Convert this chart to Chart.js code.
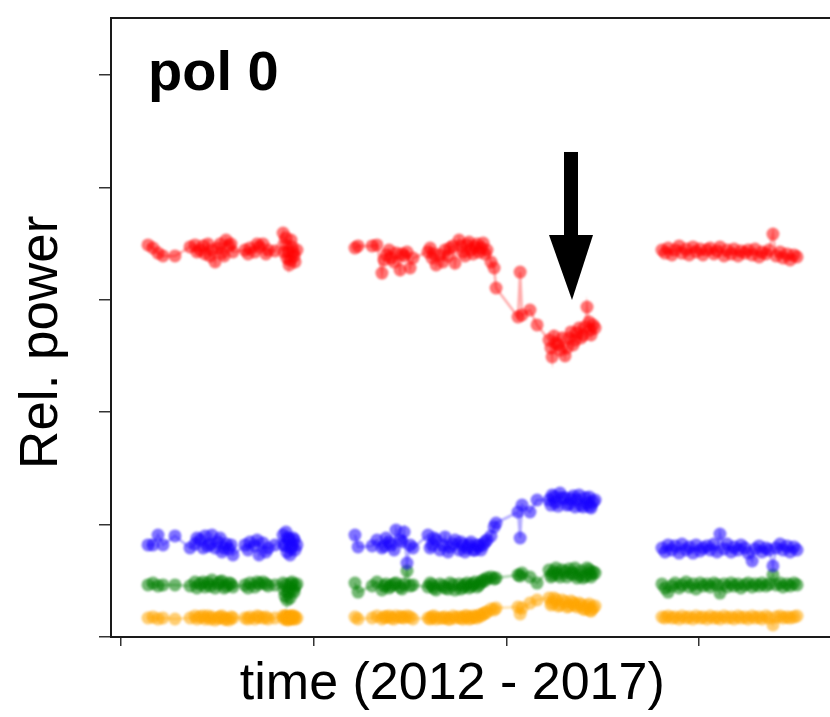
<!DOCTYPE html>
<html>
<head>
<meta charset="utf-8">
<script src="https://cdn.jsdelivr.net/npm/chart.js@4"></script>
<style>
html,body{margin:0;padding:0;background:#ffffff;}
canvas{display:block;}
</style>
</head>
<body>
<canvas id="c" width="830" height="717"></canvas>
<script>
// ---------- data (time in years, relative power) ----------
const timesA = [2013.140, 2013.166, 2013.192, 2013.218, 2013.280, 2013.358, 2013.384, 2013.394, 2013.410, 2013.426, 2013.436, 2013.451, 2013.462, 2013.472, 2013.488, 2013.503, 2013.514, 2013.524, 2013.535, 2013.545, 2013.560, 2013.571, 2013.581, 2013.643, 2013.659, 2013.669, 2013.695, 2013.706, 2013.716, 2013.737, 2013.752, 2013.763, 2013.799, 2013.841, 2013.846, 2013.851, 2013.856, 2013.861, 2013.867, 2013.872, 2013.877, 2013.882, 2013.887, 2013.893, 2013.898, 2013.903, 2013.913];
const timesB = [2014.214, 2014.230, 2014.303, 2014.328, 2014.354, 2014.365, 2014.375, 2014.391, 2014.401, 2014.417, 2014.427, 2014.448, 2014.458, 2014.469, 2014.484, 2014.500, 2014.515, 2014.593, 2014.604, 2014.614, 2014.624, 2014.635, 2014.655, 2014.671, 2014.681, 2014.697, 2014.707, 2014.723, 2014.733, 2014.754, 2014.764, 2014.775, 2014.785, 2014.796, 2014.806, 2014.816, 2014.827, 2014.837, 2014.847, 2014.858, 2014.868, 2014.879, 2014.889, 2014.899, 2014.920, 2014.936, 2014.946, 2015.060, 2015.071, 2015.081, 2015.122, 2015.159, 2015.221, 2015.231, 2015.237, 2015.247, 2015.257, 2015.268, 2015.278, 2015.289, 2015.304, 2015.314, 2015.325, 2015.335, 2015.346, 2015.356, 2015.366, 2015.377, 2015.387, 2015.398, 2015.408, 2015.418, 2015.429, 2015.434, 2015.439, 2015.449, 2015.460];
const timesC = [2015.807, 2015.823, 2015.839, 2015.859, 2015.875, 2015.896, 2015.911, 2015.932, 2015.948, 2015.968, 2015.984, 2016.005, 2016.020, 2016.041, 2016.057, 2016.077, 2016.093, 2016.108, 2016.129, 2016.145, 2016.166, 2016.181, 2016.202, 2016.217, 2016.238, 2016.254, 2016.275, 2016.290, 2016.311, 2016.326, 2016.347, 2016.363, 2016.383, 2016.399, 2016.420, 2016.435, 2016.456, 2016.472, 2016.492, 2016.508];

const redA = [3.488, 3.461, 3.416, 3.390, 3.390, 3.470, 3.488, 3.425, 3.443, 3.479, 3.408, 3.496, 3.390, 3.443, 3.336, 3.461, 3.496, 3.416, 3.390, 3.532, 3.479, 3.496, 3.425, 3.443, 3.408, 3.461, 3.425, 3.496, 3.470, 3.496, 3.408, 3.443, 3.434, 3.594, 3.425, 3.488, 3.550, 3.372, 3.425, 3.310, 3.354, 3.532, 3.470, 3.425, 3.390, 3.336, 3.443];
const redB = [3.461, 3.479, 3.479, 3.488, 3.238, 3.354, 3.399, 3.443, 3.372, 3.336, 3.416, 3.265, 3.408, 3.390, 3.425, 3.283, 3.372, 3.425, 3.461, 3.372, 3.408, 3.310, 3.399, 3.336, 3.443, 3.390, 3.461, 3.479, 3.327, 3.532, 3.479, 3.425, 3.390, 3.488, 3.514, 3.443, 3.408, 3.470, 3.496, 3.425, 3.461, 3.505, 3.408, 3.443, 3.336, 3.283, 3.105, 2.847, 3.247, 2.865, 2.909, 2.776, 2.642, 2.571, 2.491, 2.678, 2.616, 2.598, 2.553, 2.660, 2.500, 2.571, 2.660, 2.714, 2.598, 2.642, 2.705, 2.749, 2.660, 2.687, 2.758, 2.936, 2.802, 2.731, 2.687, 2.776, 2.749];
const redC = [3.443, 3.416, 3.461, 3.399, 3.443, 3.479, 3.416, 3.452, 3.399, 3.470, 3.425, 3.452, 3.399, 3.443, 3.461, 3.408, 3.434, 3.470, 3.390, 3.443, 3.408, 3.452, 3.390, 3.434, 3.416, 3.443, 3.399, 3.452, 3.381, 3.425, 3.408, 3.443, 3.585, 3.390, 3.425, 3.372, 3.408, 3.354, 3.399, 3.381];

const blueA = [0.819, 0.819, 0.907, 0.819, 0.899, 0.792, 0.827, 0.881, 0.863, 0.792, 0.899, 0.810, 0.827, 0.907, 0.792, 0.845, 0.881, 0.756, 0.792, 0.827, 0.783, 0.819, 0.730, 0.819, 0.774, 0.845, 0.810, 0.863, 0.730, 0.836, 0.756, 0.792, 0.819, 0.907, 0.819, 0.819, 0.934, 0.756, 0.881, 0.863, 0.730, 0.792, 0.819, 0.881, 0.863, 0.774, 0.819];
const blueB = [0.907, 0.801, 0.810, 0.863, 0.792, 0.810, 0.881, 0.845, 0.819, 0.774, 0.952, 0.863, 0.845, 0.934, 0.658, 0.819, 0.792, 0.907, 0.792, 0.819, 0.881, 0.863, 0.774, 0.819, 0.890, 0.756, 0.801, 0.827, 0.863, 0.774, 0.845, 0.819, 0.756, 0.792, 0.819, 0.845, 0.774, 0.774, 0.819, 0.810, 0.774, 0.819, 0.845, 0.863, 0.899, 0.979, 1.014, 1.112, 0.881, 1.174, 1.112, 1.219, 1.219, 1.174, 1.263, 1.246, 1.201, 1.165, 1.281, 1.237, 1.237, 1.174, 1.183, 1.228, 1.254, 1.157, 1.219, 1.263, 1.174, 1.157, 1.237, 1.192, 1.246, 1.165, 1.148, 1.201, 1.219];
const blueC = [0.792, 0.756, 0.819, 0.774, 0.810, 0.747, 0.827, 0.774, 0.801, 0.747, 0.819, 0.765, 0.792, 0.810, 0.774, 0.827, 0.756, 0.916, 0.783, 0.827, 0.756, 0.801, 0.774, 0.819, 0.792, 0.747, 0.676, 0.783, 0.810, 0.756, 0.792, 0.774, 0.632, 0.792, 0.827, 0.774, 0.810, 0.756, 0.801, 0.774];

const greenA = [0.463, 0.480, 0.454, 0.463, 0.463, 0.454, 0.489, 0.436, 0.472, 0.489, 0.445, 0.480, 0.454, 0.507, 0.436, 0.472, 0.489, 0.498, 0.436, 0.454, 0.480, 0.472, 0.445, 0.463, 0.436, 0.480, 0.445, 0.489, 0.472, 0.489, 0.472, 0.454, 0.463, 0.480, 0.418, 0.365, 0.463, 0.329, 0.400, 0.436, 0.347, 0.472, 0.489, 0.418, 0.400, 0.454, 0.472];
const greenB = [0.480, 0.400, 0.454, 0.489, 0.418, 0.454, 0.472, 0.436, 0.454, 0.472, 0.480, 0.445, 0.427, 0.472, 0.587, 0.454, 0.463, 0.445, 0.480, 0.463, 0.436, 0.418, 0.472, 0.454, 0.436, 0.427, 0.480, 0.463, 0.418, 0.472, 0.427, 0.445, 0.463, 0.480, 0.436, 0.454, 0.472, 0.489, 0.445, 0.463, 0.489, 0.507, 0.498, 0.525, 0.534, 0.516, 0.525, 0.552, 0.543, 0.569, 0.534, 0.480, 0.596, 0.534, 0.552, 0.578, 0.614, 0.560, 0.534, 0.596, 0.578, 0.534, 0.605, 0.569, 0.560, 0.614, 0.525, 0.552, 0.587, 0.525, 0.543, 0.614, 0.596, 0.560, 0.534, 0.578, 0.569];
const greenC = [0.472, 0.436, 0.400, 0.454, 0.480, 0.436, 0.463, 0.489, 0.445, 0.472, 0.427, 0.480, 0.454, 0.472, 0.445, 0.480, 0.463, 0.391, 0.472, 0.445, 0.480, 0.454, 0.472, 0.436, 0.463, 0.480, 0.445, 0.472, 0.454, 0.480, 0.454, 0.472, 0.552, 0.463, 0.480, 0.445, 0.472, 0.454, 0.480, 0.463];

const orangeA = [0.169, 0.178, 0.160, 0.169, 0.160, 0.169, 0.187, 0.160, 0.178, 0.187, 0.160, 0.187, 0.160, 0.178, 0.151, 0.169, 0.178, 0.187, 0.160, 0.160, 0.151, 0.178, 0.169, 0.169, 0.160, 0.178, 0.160, 0.187, 0.178, 0.169, 0.178, 0.160, 0.169, 0.187, 0.160, 0.178, 0.187, 0.160, 0.151, 0.169, 0.178, 0.187, 0.160, 0.178, 0.187, 0.160, 0.169];
const orangeB = [0.178, 0.160, 0.169, 0.187, 0.160, 0.178, 0.178, 0.187, 0.169, 0.160, 0.187, 0.178, 0.178, 0.169, 0.187, 0.178, 0.160, 0.169, 0.160, 0.178, 0.187, 0.160, 0.169, 0.169, 0.178, 0.160, 0.160, 0.187, 0.169, 0.178, 0.169, 0.160, 0.187, 0.187, 0.160, 0.169, 0.187, 0.178, 0.169, 0.196, 0.187, 0.205, 0.214, 0.222, 0.249, 0.240, 0.258, 0.267, 0.205, 0.258, 0.302, 0.329, 0.347, 0.285, 0.302, 0.347, 0.329, 0.276, 0.285, 0.329, 0.311, 0.267, 0.276, 0.320, 0.302, 0.285, 0.267, 0.302, 0.285, 0.249, 0.249, 0.276, 0.294, 0.240, 0.231, 0.258, 0.276];
const orangeC = [0.178, 0.169, 0.187, 0.169, 0.178, 0.160, 0.187, 0.169, 0.178, 0.160, 0.187, 0.169, 0.178, 0.160, 0.187, 0.169, 0.178, 0.160, 0.187, 0.169, 0.178, 0.160, 0.187, 0.169, 0.178, 0.160, 0.187, 0.169, 0.178, 0.160, 0.187, 0.169, 0.107, 0.178, 0.187, 0.169, 0.178, 0.169, 0.178, 0.187];

// unlabeled tick positions
const xTickValues = [2013, 2014, 2015, 2016];
const yTickValues = [0, 1, 2, 3, 4, 5];
const xRange = [2012.948, 2016.679];
const yRange = [0, 5.507];

// annotation arrow (data units)
const arrowX = 2015.335;
const arrowTail = 4.315;
const arrowHeadBase = 3.577;
const arrowTip = 2.998;

const panelLabel = 'pol 0';
const xTitle = 'time (2012 - 2017)';
const yTitle = 'Rel. power';

// ---------- build ----------
function buildPoints(segs) {
  const pts = [];
  segs.forEach(([t, v], k) => {
    if (k > 0) {
      const prevT = segs[k - 1][0];
      pts.push({ x: (prevT[prevT.length - 1] + t[0]) / 2, y: null });
    }
    t.forEach((ti, i) => pts.push({ x: ti, y: v[i] }));
  });
  return pts;
}

function ds(label, rgb, segs) {
  return {
    label: label,
    data: buildPoints(segs),
    borderColor: 'rgba(' + rgb + ',0.33)',
    borderWidth: 2.5,
    backgroundColor: 'rgba(' + rgb + ',0.55)',
    pointBackgroundColor: 'rgba(' + rgb + ',0.55)',
    pointBorderWidth: 0,
    pointRadius: 6.5,
    pointHoverRadius: 6.5,
    tension: 0,
    fill: false,
    spanGaps: false
  };
}

const datasets = [
  ds('band 1', '255,0,0', [[timesA, redA], [timesB, redB], [timesC, redC]]),
  ds('band 2', '24,0,255', [[timesA, blueA], [timesB, blueB], [timesC, blueC]]),
  ds('band 3', '0,125,0', [[timesA, greenA], [timesB, greenB], [timesC, greenC]]),
  ds('band 4', '255,165,0', [[timesA, orangeA], [timesB, orangeB], [timesC, orangeC]])
];

const FONT = '"Liberation Sans", Arial, Helvetica, sans-serif';

const softMarks = {
  id: 'softMarks',
  beforeDatasetsDraw(chart) { chart.ctx.save(); chart.ctx.filter = 'blur(0.8px)'; },
  afterDatasetsDraw(chart) { chart.ctx.restore(); }
};

const overlay = {
  id: 'overlay',
  afterDraw(chart) {
    const { ctx, chartArea: a, scales } = chart;
    const x = scales.x, y = scales.y;
    ctx.save();
    ctx.filter = 'none';
    // top frame line
    ctx.strokeStyle = '#1a1a1a';
    ctx.lineWidth = 2;
    ctx.beginPath();
    ctx.moveTo(a.left - 1, a.top);
    ctx.lineTo(a.right, a.top);
    ctx.stroke();
    // arrow
    const ax = x.getPixelForValue(arrowX);
    const yT = y.getPixelForValue(arrowTail);
    const yB = y.getPixelForValue(arrowHeadBase);
    const yP = y.getPixelForValue(arrowTip);
    ctx.fillStyle = '#000';
    ctx.fillRect(ax - 7, yT, 14, yB - yT + 1);
    ctx.beginPath();
    ctx.moveTo(ax - 22, yB);
    ctx.lineTo(ax + 22, yB);
    ctx.lineTo(ax + 1, yP);
    ctx.closePath();
    ctx.fill();
    // panel label
    ctx.font = 'bold 56px ' + FONT;
    ctx.textBaseline = 'alphabetic';
    ctx.textAlign = 'left';
    ctx.fillText(panelLabel, a.left + 37, a.top + 72);
    ctx.restore();
  }
};

new Chart(document.getElementById('c'), {
  type: 'line',
  data: { datasets: datasets },
  options: {
    responsive: false,
    animation: false,
    devicePixelRatio: 1,
    layout: { padding: { top: 18, right: 0, bottom: 0, left: 0 }, autoPadding: false },
    plugins: { legend: { display: false }, tooltip: { enabled: false } },
    scales: {
      x: {
        type: 'linear',
        min: xRange[0],
        max: xRange[1],
        afterBuildTicks: (s) => { s.ticks = xTickValues.map(v => ({ value: v })); },
        afterFit: (s) => { s.height = 80; },
        ticks: { display: false },
        grid: { drawOnChartArea: false, drawTicks: true, tickLength: 9, color: '#333', lineWidth: 1.5 },
        border: { display: true, color: '#1a1a1a', width: 2 },
        title: {
          display: true,
          text: xTitle + '\u2002\u2009',
          color: '#000',
          font: { family: FONT, size: 52, lineHeight: 1 },
          padding: { top: 0, bottom: 6 }
        }
      },
      y: {
        type: 'linear',
        min: yRange[0],
        max: yRange[1],
        afterBuildTicks: (s) => { s.ticks = yTickValues.map(v => ({ value: v })); },
        afterFit: (s) => { s.width = 111; },
        ticks: { display: false },
        grid: { drawOnChartArea: false, drawTicks: true, tickLength: 12, color: '#333', lineWidth: 1.5 },
        border: { display: true, color: '#1a1a1a', width: 2 },
        title: {
          display: true,
          text: yTitle + '  ',
          color: '#000',
          font: { family: FONT, size: 53, lineHeight: 1 },
          padding: { top: 15.5, bottom: 0 }
        }
      }
    }
  },
  plugins: [softMarks, overlay]
});
</script>
</body>
</html>
